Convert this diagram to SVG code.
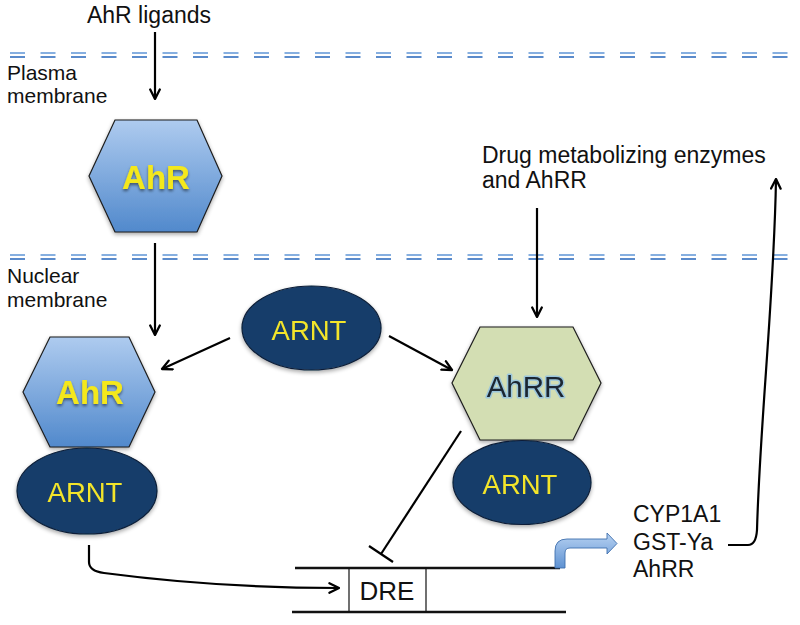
<svg xmlns="http://www.w3.org/2000/svg" width="800" height="625" viewBox="0 0 800 625">
<defs>
  <linearGradient id="gAhR" x1="0" y1="0" x2="0" y2="1">
    <stop offset="0" stop-color="#aecbef"/>
    <stop offset="1" stop-color="#5189cc"/>
  </linearGradient>
  <linearGradient id="gBent" x1="0" y1="0" x2="0" y2="1">
    <stop offset="0" stop-color="#b7d2f2"/>
    <stop offset="1" stop-color="#5f92d2"/>
  </linearGradient>
  <filter id="shadow" x="-20%" y="-20%" width="140%" height="150%">
    <feGaussianBlur in="SourceAlpha" stdDeviation="2"/>
    <feOffset dx="0" dy="2" result="b"/>
    <feComponentTransfer><feFuncA type="linear" slope="0.35"/></feComponentTransfer>
    <feMerge><feMergeNode/><feMergeNode in="SourceGraphic"/></feMerge>
  </filter>
  <filter id="tshadow" x="-20%" y="-20%" width="140%" height="150%">
    <feGaussianBlur in="SourceAlpha" stdDeviation="1.5"/>
    <feOffset dx="0" dy="1.5"/>
    <feComponentTransfer><feFuncA type="linear" slope="0.5"/></feComponentTransfer>
    <feMerge><feMergeNode/><feMergeNode in="SourceGraphic"/></feMerge>
  </filter>
  <marker id="arr" viewBox="0 0 10 10" refX="9" refY="5" markerWidth="12" markerHeight="12" markerUnits="userSpaceOnUse" orient="auto">
    <path d="M1,1 L9,5 L1,9" fill="none" stroke="#000" stroke-width="1.9" stroke-linecap="round" stroke-linejoin="round"/>
  </marker>
</defs>
<style>
  .lbl { font-family: "Liberation Sans", Arial, sans-serif; fill: #111; }
  .main { font-size: 23px; }
  .side { font-size: 21px; }
  .mem1 { stroke: #86afe0; stroke-width: 2.2; stroke-dasharray: 15 15.5; fill: none; }
  .mem2 { stroke: #5b8bcb; stroke-width: 2.2; stroke-dasharray: 15 15.5; fill: none; }
  .conn { stroke: #000; stroke-width: 2.2; fill: none; }
  .hexB { fill: url(#gAhR); stroke: #1d1d1d; stroke-width: 1.2; }
  .hexG { fill: #d3deb3; stroke: #1d1d1d; stroke-width: 1.2; }
  .arnt { fill: #163e6b; stroke: #0b1f38; stroke-width: 1.2; }
  .arntT { font-family: "Liberation Sans", Arial, sans-serif; font-size: 27.5px; fill: #f3e52a; text-anchor: middle; }
  .ahrT { font-family: "Liberation Sans", Arial, sans-serif; font-size: 33px; font-weight: bold; fill: #f4e81c; text-anchor: middle; }
  .line { stroke: #111; stroke-width: 2.4; fill: none; }
</style>
<rect width="800" height="625" fill="#fff"/>

<g id="membranes">
  <line class="mem1" x1="10" y1="53" x2="800" y2="53"/>
  <line class="mem2" x1="10" y1="57" x2="800" y2="57"/>
  <line class="mem1" x1="10" y1="255" x2="800" y2="255"/>
  <line class="mem2" x1="10" y1="259" x2="800" y2="259"/>
</g>

<g id="labels">
  <text class="lbl main" x="149" y="23" text-anchor="middle">AhR ligands</text>
  <text class="lbl side" x="7" y="80">Plasma</text>
  <text class="lbl side" x="7" y="103">membrane</text>
  <text class="lbl side" x="7" y="283">Nuclear</text>
  <text class="lbl side" x="7" y="307">membrane</text>
  <text class="lbl main" x="482" y="163">Drug metabolizing enzymes</text>
  <text class="lbl main" x="482" y="188">and AhRR</text>
  <text class="lbl main" x="633" y="522">CYP1A1</text>
  <text class="lbl main" x="633" y="550">GST-Ya</text>
  <text class="lbl main" x="633" y="577">AhRR</text>
</g>

<g id="AhR-cytoplasm" filter="url(#shadow)">
  <polygon class="hexB" points="115,120 197,120 222,176 197,232 115,232 89,176"/>
  <text class="ahrT" x="156" y="189" filter="url(#tshadow)">AhR</text>
</g>

<g id="AhR-nucleus" filter="url(#shadow)">
  <polygon class="hexB" points="50,337 129,337 155,392 129,447 50,447 23,392"/>
  <text class="ahrT" x="90" y="404" filter="url(#tshadow)">AhR</text>
</g>

<g id="ARNT-left" filter="url(#shadow)">
  <ellipse class="arnt" cx="87" cy="491" rx="70" ry="43"/>
  <text class="arntT" x="85" y="502">ARNT</text>
</g>

<g id="ARNT-center" filter="url(#shadow)">
  <ellipse class="arnt" cx="311.5" cy="328" rx="69.5" ry="42"/>
  <text class="arntT" x="309" y="340">ARNT</text>
</g>

<g id="AhRR" filter="url(#shadow)">
  <polygon class="hexG" points="480,327 573,327 601,383 573,440 480,440 452,383"/>
  <text x="526" y="397" text-anchor="middle" font-family="Liberation Sans, Arial, sans-serif" font-size="29.5" fill="#1c2833" stroke="#9cc6dc" stroke-width="3" stroke-linejoin="round" paint-order="stroke">AhRR</text>
</g>

<g id="ARNT-right" filter="url(#shadow)">
  <ellipse class="arnt" cx="522" cy="482.5" rx="69" ry="42"/>
  <text class="arntT" x="520" y="494">ARNT</text>
</g>

<g id="DNA">
  <line class="line" x1="295" y1="568" x2="560" y2="568"/>
  <line class="line" x1="292" y1="612" x2="566" y2="612"/>
  <line stroke="#111" stroke-width="1.2" x1="349" y1="568" x2="349" y2="612"/>
  <line stroke="#111" stroke-width="1.2" x1="426" y1="568" x2="426" y2="612"/>
  <text class="lbl" x="387" y="600" font-size="26" text-anchor="middle">DRE</text>
</g>

<g id="transcription-arrow">
  <path d="M555,568 L555,551 Q555,539 567,539 L607,539 L607,533 L617,543.5 L607,554 L607,548 L570,548 Q565,548 565,553 L565,568 Z" fill="url(#gBent)" stroke="#3f6fae" stroke-width="0.9"/>
</g>

<g id="connectors">
  <line class="conn" x1="155" y1="32" x2="155" y2="99" marker-end="url(#arr)"/>
  <line class="conn" x1="155" y1="243" x2="155" y2="335" marker-end="url(#arr)"/>
  <line class="conn" x1="537" y1="208" x2="537" y2="317" marker-end="url(#arr)"/>
  <line class="conn" x1="230" y1="338" x2="162" y2="369" marker-end="url(#arr)"/>
  <line class="conn" x1="389" y1="336" x2="452" y2="370" marker-end="url(#arr)"/>
  <path class="conn" d="M89,545 L89,562 Q89,571 104,573 C180,583 260,588 339,588" marker-end="url(#arr)"/>
  <line class="conn" x1="461" y1="431" x2="381" y2="554"/>
  <line class="conn" x1="369" y1="546" x2="393" y2="562"/>
  <path class="conn" d="M728,545 L748,545 Q756,545 757,530 C760,420 774,300 776,179" marker-end="url(#arr)"/>
</g>
</svg>
